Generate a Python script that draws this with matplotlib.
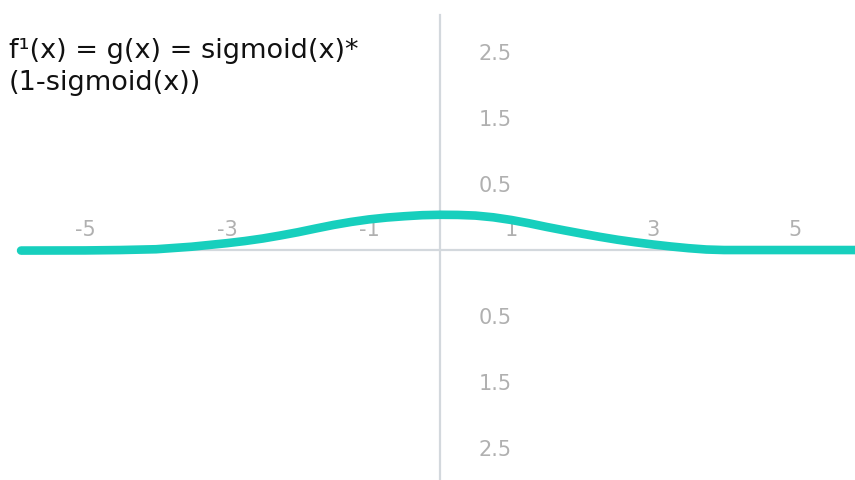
import matplotlib
matplotlib.use("Agg")
import matplotlib.pyplot as plt

# Curve values
x_vals = [-5.9, -5.0, -4.5, -4.0, -3.5, -3.0, -2.75, -2.5, -2.25, -2.0, -1.75, -1.5, -1.25,
          -1.0, -0.75, -0.5, -0.25, 0.0, 0.25, 0.5, 0.75, 1.0, 1.25, 1.5, 1.75, 2.0,
          2.25, 2.5, 2.75, 3.0, 3.25, 3.5, 3.75, 4.0, 5.0, 5.9]
y_vals = [-0.004, -0.003, 0.0, 0.006, 0.025, 0.052, 0.068, 0.087, 0.110, 0.135, 0.163, 0.190, 0.213,
          0.232, 0.246, 0.256, 0.264, 0.267, 0.266, 0.261, 0.248, 0.228, 0.203, 0.175, 0.149, 0.124,
          0.100, 0.078, 0.059, 0.042, 0.027, 0.014, 0.004, 0.0, 0.0, 0.0]

x_ticks = [-5, -3, -1, 1, 3, 5]
x_tick_labels = ["-5", "-3", "-1", "1", "3", "5"]
y_ticks = [1.5, 1.0, 0.5, -0.5, -1.0, -1.5]
y_tick_labels = ["2.5", "1.5", "0.5", "0.5", "1.5", "2.5"]

title = "f\u00b9(x) = g(x) = sigmoid(x)*\n(1-sigmoid(x))"

plt.rcParams['font.family'] = ['DejaVu Sans']

fig = plt.figure(figsize=(8.55, 4.8), dpi=100)
ax = fig.add_axes([0, 0, 1, 1])
ax.set_xlim(-6.197, 5.845)
ax.set_ylim(-1.742, 1.894)

ax.plot(x_vals, y_vals, color="#17CFBD", lw=6.2, solid_capstyle="round", zorder=3)

axis_col = "#d3d8dd"
for s in ["left", "bottom"]:
    ax.spines[s].set_visible(False)
ax.spines["top"].set_position(("data", 0))
ax.spines["right"].set_position(("data", 0))
ax.spines["top"].set_color(axis_col)
ax.spines["right"].set_color(axis_col)
ax.spines["top"].set_linewidth(1.6)
ax.spines["right"].set_linewidth(1.6)
ax.spines["top"].set_bounds(-5.9, 5.845)
ax.spines["right"].set_bounds(-1.742, 1.78)

ax.xaxis.set_ticks_position("top")
ax.yaxis.set_ticks_position("right")
ax.set_xticks(x_ticks)
ax.set_xticklabels(x_tick_labels)
ax.set_yticks(y_ticks)
ax.set_yticklabels(y_tick_labels)
ax.tick_params(axis="x", length=0, pad=7, labelsize=15, labelcolor="#b0b0b0")
ax.tick_params(axis="y", length=0, pad=28, labelsize=15, labelcolor="#b0b0b0")
for lbl in ax.get_yticklabels():
    lbl.set_horizontalalignment("left")

fig.text(9 / 855, 1 - 38 / 480, title, fontsize=19.5, color="#111111",
         va="top", ha="left", linespacing=1.3)

fig.savefig("out.png", dpi=100, facecolor="white")
